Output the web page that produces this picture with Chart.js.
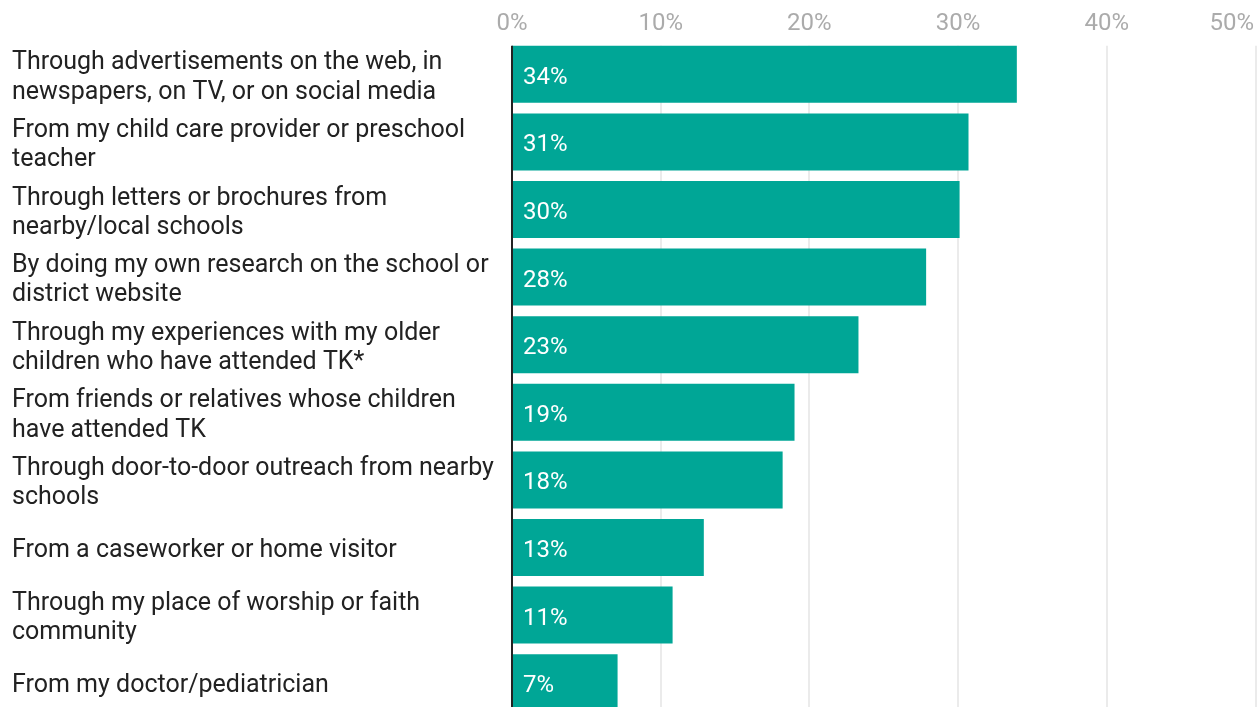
<!DOCTYPE html>
<html>
<head>
<meta charset="utf-8">
<script src="https://cdn.jsdelivr.net/npm/chart.js@4/dist/chart.umd.min.js"></script>
<style>
    html, body { margin: 0; padding: 0; background: #fff; overflow: hidden; }
    body { width: 1259px; height: 707px; }
</style>
</head>
<body>
<canvas id="chart" width="1259" height="720"></canvas>
<script>
    // categories (already wrapped the way the reference wraps them)
    const categories = [
        ['Through advertisements on the web, in', 'newspapers, on TV, or on social media'],
        ['From my child care provider or preschool', 'teacher'],
        ['Through letters or brochures from', 'nearby/local schools'],
        ['By doing my own research on the school or', 'district website'],
        ['Through my experiences with my older', 'children who have attended TK*'],
        ['From friends or relatives whose children', 'have attended TK'],
        ['Through door-to-door outreach from nearby', 'schools'],
        'From a caseworker or home visitor',
        ['Through my place of worship or faith', 'community'],
        'From my doctor/pediatrician'
    ];
    const shares = [33.95, 30.7, 30.1, 27.85, 23.3, 19.0, 18.2, 12.9, 10.8, 7.1];
    const tickValues = [0, 10, 20, 30, 40, 50];

    const FONT = 'Roboto';
    const TEAL = '#00a696';

    // grid lines + axis line, only from the first bar down (like the original)
    const gridPlugin = {
        id: 'grid',
        beforeDatasetsDraw(chart) {
            const ctx = chart.ctx;
            const x = chart.scales.x;
            const bar = chart.getDatasetMeta(0).data[0];
            const top = bar.y - bar.height / 2;
            ctx.save();
            ctx.strokeStyle = '#e4e4e4';
            ctx.lineWidth = 1.5;
            tickValues.forEach(v => {
                if (v === 0) return;
                const px = Math.round(x.getPixelForValue(v));
                ctx.beginPath();
                ctx.moveTo(px, top);
                ctx.lineTo(px, chart.chartArea.bottom);
                ctx.stroke();
            });
            ctx.restore();
        },
        afterDatasetsDraw(chart) {
            const ctx = chart.ctx;
            const x = chart.scales.x;
            const meta = chart.getDatasetMeta(0);
            const top = meta.data[0].y - meta.data[0].height / 2;

            // value labels inside bars
            ctx.save();
            ctx.fillStyle = '#fff';
            ctx.font = '24px ' + FONT;
            ctx.textAlign = 'left';
            ctx.textBaseline = 'middle';
            meta.data.forEach((el, i) => {
                ctx.fillText(Math.round(shares[i]) + '%', el.base + 11, el.y + 3.5);
            });

            // zero axis line
            const x0 = x.getPixelForValue(0);
            ctx.strokeStyle = '#222';
            ctx.lineWidth = 2;
            ctx.beginPath();
            ctx.moveTo(x0, top);
            ctx.lineTo(x0, chart.chartArea.bottom);
            ctx.stroke();

            // top tick labels (last one kept inside the canvas)
            ctx.fillStyle = '#ababab';
            ctx.font = '24px ' + FONT;
            ctx.textBaseline = 'middle';
            tickValues.forEach(v => {
                const px = x.getPixelForValue(v);
                const txt = v + '%';
                const w = ctx.measureText(txt).width;
                if (px + w / 2 > chart.width - 5) {
                    ctx.textAlign = 'right';
                    ctx.fillText(txt, chart.width - 5, 23.5);
                } else {
                    ctx.textAlign = 'center';
                    ctx.fillText(txt, px, 23.5);
                }
            });
            ctx.restore();
        }
    };

    new Chart(document.getElementById('chart').getContext('2d'), {
        type: 'bar',
        data: {
            labels: categories,
            datasets: [{
                data: shares,
                backgroundColor: TEAL,
                borderWidth: 0,
                barPercentage: 0.843,
                categoryPercentage: 1
            }]
        },
        options: {
            indexAxis: 'y',
            responsive: false,
            animation: false,
            layout: {
                padding: { left: 12, right: 3.5, top: 0, bottom: 3.5 }
            },
            scales: {
                x: {
                    position: 'top',
                    min: 0,
                    max: 50,
                    grid: { display: false },
                    border: { display: false },
                    ticks: { display: false },
                    afterFit(s) { s.height = 40.5; }
                },
                y: {
                    grid: { display: false },
                    border: { display: false },
                    ticks: {
                        crossAlign: 'far',
                        labelOffset: 3.5,
                        color: '#222',
                        font: { family: FONT, size: 25, lineHeight: 1.17 }
                    },
                    afterFit(s) {
                        s.width = 500;
                        s.paddingTop = 0;
                        s.paddingBottom = 0;
                    }
                }
            },
            plugins: {
                legend: { display: false },
                tooltip: { enabled: false }
            }
        },
        plugins: [gridPlugin]
    });
</script>
</body>
</html>
